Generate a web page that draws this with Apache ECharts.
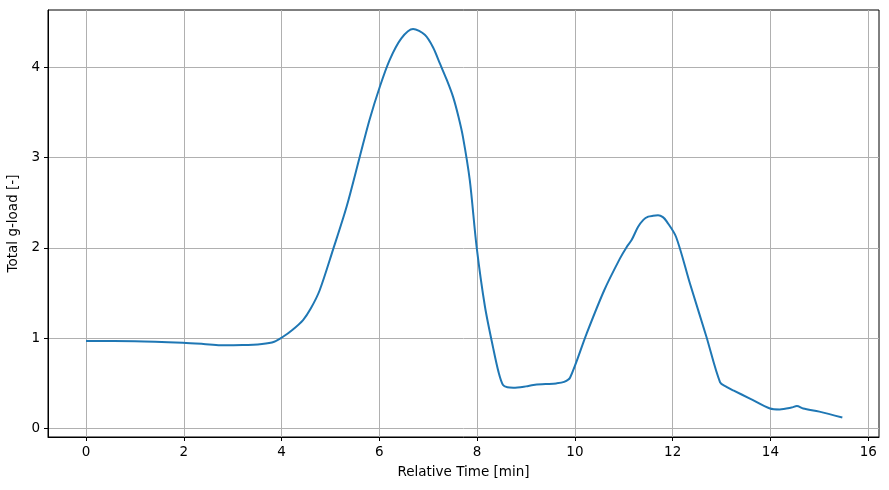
<!DOCTYPE html>
<html>
<head>
<meta charset="utf-8">
<script src="https://cdn.jsdelivr.net/npm/echarts@6/dist/echarts.min.js"></script>
<style>
  html, body { margin: 0; padding: 0; background: #fff; }
  #chart { width: 889px; height: 490px; }
</style>
</head>
<body>
<div id="chart"></div>
<script>
// relative time [min]
const timeMin = [0, 1.0, 1.98, 2.4, 2.75, 3.2, 3.6, 3.85, 4.03, 4.22, 4.44, 4.6, 4.78, 5.05, 5.33, 5.6, 5.8, 6.01, 6.21, 6.45, 6.69, 6.93, 7.1, 7.24, 7.38, 7.51, 7.62, 7.71, 7.85, 7.99, 8.16, 8.33, 8.44, 8.53, 8.62, 8.74, 9.0, 9.15, 9.4, 9.62, 9.78, 9.9, 10.24, 10.6, 10.92, 11.06, 11.16, 11.29, 11.4, 11.5, 11.6, 11.7, 11.8, 11.88, 12.07, 12.35, 12.69, 12.97, 13.1, 13.24, 13.58, 13.99, 14.19, 14.43, 14.54, 14.67, 15.0, 15.47];
// total g-load [-]
const gLoad = [0.967, 0.965, 0.949, 0.935, 0.92, 0.922, 0.935, 0.96, 1.015, 1.09, 1.2, 1.33, 1.53, 1.975, 2.455, 3.01, 3.42, 3.785, 4.08, 4.32, 4.424, 4.36, 4.22, 4.04, 3.86, 3.67, 3.45, 3.23, 2.75, 2.01, 1.35, 0.886, 0.62, 0.48, 0.455, 0.45, 0.465, 0.48, 0.49, 0.498, 0.515, 0.56, 1.05, 1.53, 1.88, 2.01, 2.086, 2.23, 2.31, 2.345, 2.355, 2.36, 2.34, 2.29, 2.12, 1.61, 1.015, 0.51, 0.46, 0.42, 0.33, 0.22, 0.21, 0.23, 0.247, 0.22, 0.185, 0.12];
const xTicks = [0, 2, 4, 6, 8, 10, 12, 14, 16];
const yTicks = [0, 1, 2, 3, 4];

const font = "DejaVu Sans";
const chart = echarts.init(document.getElementById("chart"));

const axisCommon = {
  axisLine: { show: true, onZero: false, lineStyle: { color: "#000", width: 1 } },
  axisTick: { show: true, length: 4, inside: false, lineStyle: { color: "#000", width: 1 } },
  splitLine: { show: true, lineStyle: { color: "#b0b0b0", width: 1 } },
  nameLocation: "middle",
  nameTextStyle: { color: "#000", fontFamily: font, fontSize: 13.5 },
};

chart.setOption({
  animation: false,
  grid: {
    left: 48, right: 10, top: 10, bottom: 53,
    containLabel: false,
    outerBoundsMode: "none",
    show: true, borderColor: "#000", borderWidth: 1,
  },
  xAxis: {
    ...axisCommon,
    type: "value",
    min: -0.777,
    max: 16.22,
    name: "Relative Time [min]",
    nameGap: 28,
    axisTick: { ...axisCommon.axisTick, customValues: xTicks },
    axisLabel: { customValues: xTicks, color: "#000", fontFamily: font, fontSize: 13.5, margin: 8 },
  },
  yAxis: {
    ...axisCommon,
    type: "value",
    min: -0.096,
    max: 4.635,
    name: "Total g-load [-]",
    nameGap: 24,
    axisTick: { ...axisCommon.axisTick, customValues: yTicks },
    axisLabel: { customValues: yTicks, color: "#000", fontFamily: font, fontSize: 13.5, margin: 8 },
  },
  series: [
    {
      type: "line",
      data: timeMin.map((t, i) => [t, gLoad[i]]),
      showSymbol: false,
      smooth: 0.3,
      lineStyle: { color: "#1f77b4", width: 2 },
    },
  ],
});
</script>
</body>
</html>
